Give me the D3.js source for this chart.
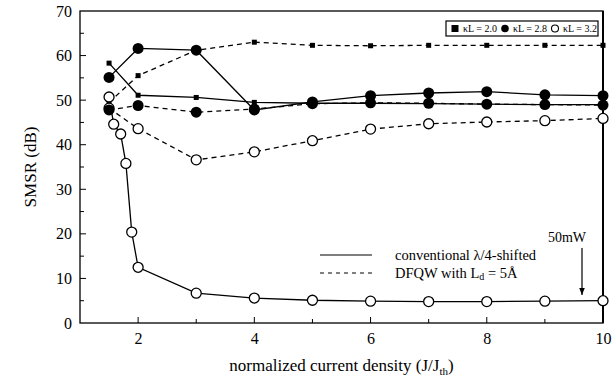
<!DOCTYPE html>
<html><head><meta charset="utf-8">
<script src="https://cdn.jsdelivr.net/npm/d3@7"></script>
<style>body{margin:0;background:#fff}svg{display:block}text{font-family:"Liberation Serif","Times New Roman",serif;fill:#000}</style>
</head><body><svg id="c" width="613" height="383"></svg>
<script>
const xMain = [1.5, 2, 3, 4, 5, 6, 7, 8, 9, 10];
const convK20 = [58.3, 51.1, 50.6, 49.5, 49.3, 49.3, 49.2, 49.1, 49.0, 49.0];
const dfqwK20 = [49.5, 55.5, 61.2, 63.0, 62.3, 62.2, 62.3, 62.3, 62.3, 62.3];
const convK28 = [55.1, 61.6, 61.2, 47.8, 49.6, 51.0, 51.6, 51.9, 51.2, 51.0];
const dfqwK28 = [47.8, 48.8, 47.3, 48.0, 49.2, 49.4, 49.3, 49.1, 49.0, 48.9];
const xConvK32 = [1.5, 1.58, 1.7, 1.79, 1.89, 2, 3, 4, 5, 6, 7, 8, 9, 10];
const convK32 = [50.7, 44.6, 42.4, 35.8, 20.4, 12.5, 6.7, 5.6, 5.1, 4.9, 4.8, 4.8, 4.9, 5.0];
const dfqwK32 = [48.2, 43.6, 36.6, 38.4, 40.9, 43.5, 44.7, 45.1, 45.4, 45.9];
const xTicks = [2, 4, 6, 8, 10];
const yTicks = [0, 10, 20, 30, 40, 50, 60, 70];
const legendLabels = ["κL = 2.0", "κL = 2.8", "κL = 3.2"];
const lineLabels = ["conventional λ/4-shifted", "DFQW with L", "= 5Å"];

const svg = d3.select("#c");
const L = 80, R = 603, T = 11, B = 323;
const x = d3.scaleLinear().domain([1, 10]).range([L, R]);
const y = d3.scaleLinear().domain([0, 70]).range([B, T]);

// frame
svg.append("rect").attr("x", L).attr("y", T).attr("width", R - L).attr("height", B - T)
  .attr("fill", "none").attr("stroke", "#000").attr("stroke-width", 1.3);
svg.append("line").attr("x1", R).attr("x2", R).attr("y1", T).attr("y2", B).attr("stroke", "#000").attr("stroke-width", 2);

// axes
const xAxis = d3.axisBottom(x).tickValues(xTicks).tickSize(0).tickPadding(10).tickFormat(d3.format("d"));
const gx = svg.append("g").attr("transform", `translate(0,${B})`).call(xAxis);
gx.select(".domain").remove();
gx.selectAll("text").attr("font-size", 16).style("font-family", "Liberation Serif");
const yAxis = d3.axisLeft(y).tickValues(yTicks).tickSize(0).tickPadding(8);
const gy = svg.append("g").attr("transform", `translate(${L},0)`).call(yAxis);
gy.select(".domain").remove();
gy.selectAll("text").attr("font-size", 16).style("font-family", "Liberation Serif");

// inward ticks
const xMinor = d3.range(2, 10, 1);
svg.append("g").selectAll("line").data(xMinor).join("line")
  .attr("x1", d => x(d)).attr("x2", d => x(d)).attr("y1", B).attr("y2", d => B - (d % 2 === 0 ? 6 : 4))
  .attr("stroke", "#000").attr("stroke-width", 1);
const yMinor = d3.range(5, 70, 5);
svg.append("g").selectAll("line").data(yMinor).join("line")
  .attr("x1", L).attr("x2", d => L + (d % 10 === 0 ? 6 : 4)).attr("y1", d => y(d)).attr("y2", d => y(d))
  .attr("stroke", "#000").attr("stroke-width", 1);

// series
const series = [
  { xs: xMain, ys: convK20, dash: null, mark: "square" },
  { xs: xMain, ys: dfqwK20, dash: "5,4", mark: "square" },
  { xs: xConvK32, ys: convK32, dash: null, mark: "open" },
  { xs: xMain, ys: dfqwK32, dash: "5,4", mark: "open" },
  { xs: xMain, ys: dfqwK28, dash: "5,4", mark: "filled" },
  { xs: xMain, ys: convK28, dash: null, mark: "filled" }
];
const line = d3.line().x(d => x(d[0])).y(d => y(d[1]));
series.forEach(s => {
  const pts = s.xs.map((v, i) => [v, s.ys[i]]);
  svg.append("path").datum(pts).attr("d", line).attr("fill", "none")
    .attr("stroke", "#000").attr("stroke-width", 1.3).attr("stroke-dasharray", s.dash);
});
function drawMark(g, mark, cx, cy) {
  if (mark === "square") g.append("rect").attr("x", cx - 2.5).attr("y", cy - 2.5).attr("width", 5).attr("height", 5).attr("fill", "#000");
  else if (mark === "filled") g.append("circle").attr("cx", cx).attr("cy", cy).attr("r", 5.5).attr("fill", "#000");
  else g.append("circle").attr("cx", cx).attr("cy", cy).attr("r", 5).attr("fill", "#fff").attr("stroke", "#000").attr("stroke-width", 1.3);
}
series.forEach(s => {
  const g = svg.append("g");
  s.xs.forEach((v, i) => drawMark(g, s.mark, x(v), y(s.ys[i])));
});

// labels
svg.append("text").attr("transform", `translate(36,${(T + B) / 2}) rotate(-90)`).attr("text-anchor", "middle")
  .attr("font-size", 17).text("SMSR (dB)");
const xl = svg.append("text").attr("x", (L + R) / 2).attr("y", 371).attr("text-anchor", "middle").attr("font-size", 17);
xl.append("tspan").text("normalized current density (J/J");
xl.append("tspan").attr("font-size", 11).attr("dy", 4).text("th");
xl.append("tspan").attr("dy", -4).text(")");

// top legend
const lg = svg.append("g");
const lx0 = 446, ly0 = 21, lw = 152, lh = 15;
lg.append("rect").attr("x", lx0).attr("y", ly0).attr("width", lw).attr("height", lh).attr("fill", "#fff").attr("stroke", "#000").attr("stroke-width", 1.2);
const lmarks = ["square", "filled", "open"];
legendLabels.forEach((t, i) => {
  const cx = lx0 + 9 + i * 50;
  const cy = ly0 + lh / 2;
  if (lmarks[i] === "square") lg.append("rect").attr("x", cx - 3.5).attr("y", cy - 3.5).attr("width", 7).attr("height", 7).attr("fill", "#000");
  else if (lmarks[i] === "filled") lg.append("circle").attr("cx", cx).attr("cy", cy).attr("r", 3.8).attr("fill", "#000");
  else lg.append("circle").attr("cx", cx).attr("cy", cy).attr("r", 3.5).attr("fill", "#fff").attr("stroke", "#000").attr("stroke-width", 1.1);
  lg.append("text").attr("x", cx + 8).attr("y", cy + 3.5).attr("font-size", 10).text(t);
});

// line-style legend
const sy1 = 255, sy2 = 273;
svg.append("line").attr("x1", 320).attr("x2", 372).attr("y1", sy1).attr("y2", sy1).attr("stroke", "#000").attr("stroke-width", 1.2);
svg.append("line").attr("x1", 320).attr("x2", 372).attr("y1", sy2).attr("y2", sy2).attr("stroke", "#000").attr("stroke-width", 1.2).attr("stroke-dasharray", "4,4");
svg.append("text").attr("x", 395).attr("y", sy1 + 5).attr("font-size", 14.5).text(lineLabels[0]);
const t2 = svg.append("text").attr("x", 395).attr("y", sy2 + 5).attr("font-size", 14.5);
t2.append("tspan").text(lineLabels[1]);
t2.append("tspan").attr("font-size", 10).attr("dy", 2).text("d");
t2.append("tspan").attr("dy", -2).text(" " + lineLabels[2]);

// 50mW annotation
svg.append("text").attr("x", 586).attr("y", 242).attr("text-anchor", "end").attr("font-size", 14).text("50mW");
svg.append("defs").append("marker").attr("id", "ah").attr("viewBox", "0 0 10 10").attr("refX", 10).attr("refY", 5)
  .attr("markerWidth", 6).attr("markerHeight", 8).attr("orient", "auto")
  .append("path").attr("d", "M0,1 L10,5 L0,9 Z").attr("fill", "#000");
svg.append("line").attr("x1", 582).attr("x2", 582).attr("y1", 248).attr("y2", 295)
  .attr("stroke", "#000").attr("stroke-width", 1.2).attr("marker-end", "url(#ah)");
</script></body></html>
